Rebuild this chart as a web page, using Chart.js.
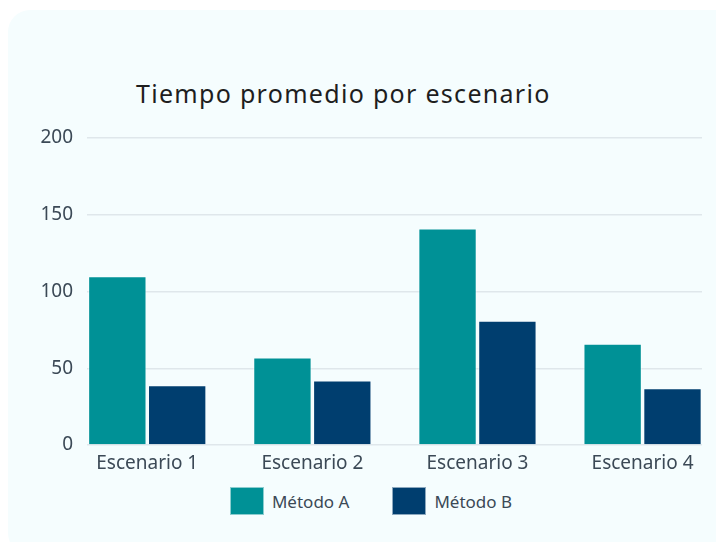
<!DOCTYPE html>
<html>
<head>
<meta charset="utf-8">
<script src="https://cdn.jsdelivr.net/npm/chart.js@4"></script>
<style>
  html, body { margin: 0; padding: 0; background: #ffffff; overflow: hidden; }
  #card {
    position: absolute; left: 8px; top: 10px; width: 730px; height: 545px;
    background: #f5fdfe; border-radius: 22px;
  }
  #title {
    position: absolute; left: 136px; top: 78px;
    font-family: "Noto Sans", sans-serif; font-size: 25px; line-height: 30px;
    letter-spacing: 1.3px; color: #1e1e1e; white-space: nowrap;
  }
  #wrap { position: absolute; left: 26px; top: 110px; width: 690px; height: 373px; }
  #legend {
    position: absolute; left: 40px; top: 487px; width: 662px;
    display: flex; justify-content: center; gap: 43px;
    font-family: "Noto Sans", sans-serif; font-size: 17px; color: #3b4956;
  }
  .item { display: flex; align-items: center; height: 28px; }
  .box { width: 34px; height: 28px; box-sizing: border-box; margin-right: 8px; }
</style>
</head>
<body>
<div id="card"></div>
<div id="title">Tiempo promedio por escenario</div>
<div id="wrap"><canvas id="ChartTiempo"></canvas></div>
<div id="legend"></div>
<script>
// Tiempo promedio por escenario
var escenarios = ['Escenario 1', 'Escenario 2', 'Escenario 3', 'Escenario 4'];
var metodoA = [110, 57, 141, 66];
var metodoB = [39, 42, 81, 37];
var yTicks = [0, 50, 100, 150, 200];

var textColor = '#3b4956';
var fontFamily = '"Noto Sans", sans-serif';

function puntos(valores) {
    return valores.map(function (v, i) { return {x: i, y: v}; });
}

var TiempoCanvas = document.getElementById('ChartTiempo');

var TiempoData = {
    datasets: [
        {
            label: 'Método A',
            data: puntos(metodoA),
            backgroundColor: '#009196',
            borderColor: 'rgba(255,255,255,0.55)',
            borderWidth: 1
        },
        {
            label: 'Método B',
            data: puntos(metodoB),
            backgroundColor: '#003e6f',
            borderColor: 'rgba(255,255,255,0.55)',
            borderWidth: 1
        }]
};

var barChart = new Chart(TiempoCanvas, {
    type: 'bar',
    data: TiempoData,
    options: {
        responsive: true,
        maintainAspectRatio: false,
        animation: false,
        categoryPercentage: 0.725,
        barPercentage: 0.975,
        layout: { padding: { left: 14, right: 14, top: 28, bottom: 0 } },
        plugins: {
            title: { display: false },
            tooltip: { enabled: false },
            legend: { display: false }
        },
        scales: {
            x: {
                type: 'linear',
                min: -0.365,
                max: 3.36,
                offset: false,
                grid: { display: false, offset: false },
                border: { display: false },
                afterFit: function (scale) { scale.height = 38; },
                afterBuildTicks: function (scale) {
                    scale.ticks = escenarios.map(function (_, i) { return {value: i}; });
                },
                ticks: {
                    padding: -1,
                    autoSkip: false,
                    maxRotation: 0,
                    color: textColor,
                    font: { family: fontFamily, size: 19 },
                    callback: function (value) { return escenarios[value]; }
                }
            },
            y: {
                min: 0,
                max: 200,
                afterFit: function (scale) { scale.width = 47; },
                afterBuildTicks: function (scale) {
                    scale.ticks = yTicks.map(function (v) { return {value: v}; });
                },
                grid: { color: '#dfe7eb', lineWidth: 1.5, drawTicks: false },
                border: { display: false },
                ticks: {
                    padding: 14,
                    color: textColor,
                    font: { family: fontFamily, size: 19 }
                }
            }
        }
    }
});

// leyenda en HTML a partir de los elementos que genera Chart.js
var items = barChart.options.plugins.legend.labels.generateLabels(barChart);
var legendDiv = document.getElementById('legend');
items.forEach(function (it) {
    var el = document.createElement('div');
    el.className = 'item';
    var box = document.createElement('span');
    box.className = 'box';
    box.style.background = it.fillStyle;
    box.style.border = it.lineWidth + 'px solid ' + it.strokeStyle;
    var txt = document.createElement('span');
    txt.textContent = it.text;
    el.appendChild(box);
    el.appendChild(txt);
    legendDiv.appendChild(el);
});
</script>
</body>
</html>
